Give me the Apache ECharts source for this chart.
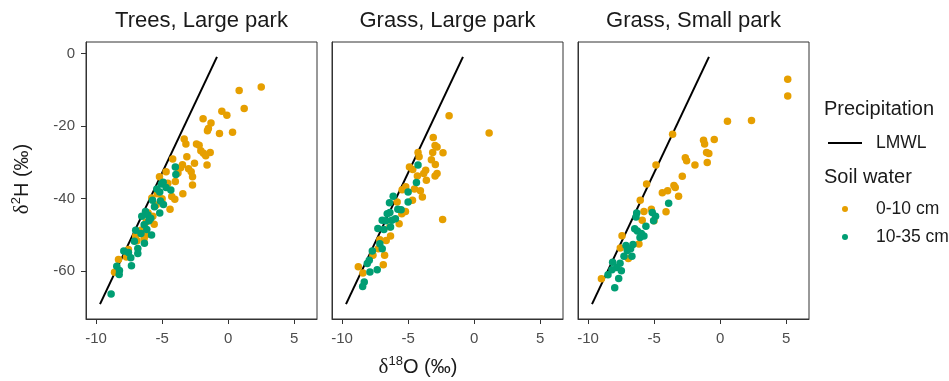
<!DOCTYPE html>
<html>
<head>
<meta charset="utf-8">
<script src="https://cdn.jsdelivr.net/npm/echarts@6/dist/echarts.min.js"></script>
<style>
	html,body{margin:0;padding:0;background:#fff;}
	#main{width:949px;height:381px;}
</style>
</head>
<body>
<div id="main"></div>
<script>
	// panel titles
	var panelNames = ['Trees, Large park', 'Grass, Large park', 'Grass, Small park'];
	var xTicks = [-10, -5, 0, 5];
	var yTicks = [-60, -40, -20, 0];

	// LMWL end points (d18O, d2H)
	var lmwlO = [-9.7, -0.85];
	var lmwlH = [-69.2, -0.9];

	// Trees, Large park
	var p1ShallowO = [2.5, 0.83, 1.21, -0.48, -0.1, -1.9, -1.3, -1.5, -1.57, -0.66, 0.33, -3.33, -3.2, -2.4, -2.2, -2.07, -1.87, -1.36, -1.7, -3.13, -4.2, -1.6, -2.55, -3.46, -3.0, -2.8, -4.7, -3.8, -3.6, -2.7, -5.2, -4.0, -2.7, -4.57, -3.43, -4.27, -4.04, -4.4, -5.35, -5.0, -5.78, -6.06, -5.7, -5.6, -6.2, -6.6, -6.2, -7.0, -6.36, -6.9, -7.55, -7.7, -8.3, -8.6, -5.45];
	var p1ShallowH = [-9.2, -10.2, -15.2, -15.9, -17.0, -18.0, -19.2, -20.7, -21.3, -22.1, -21.7, -23.6, -25.0, -25.0, -25.3, -26.8, -27.5, -27.3, -28.2, -28.5, -29.1, -30.8, -30.3, -30.7, -31.8, -32.6, -32.6, -33.0, -31.5, -34.0, -34.0, -35.3, -36.3, -35.8, -38.7, -39.5, -40.2, -43.0, -38.7, -40.1, -39.9, -44.0, -44.9, -47.1, -46.5, -48.8, -50.0, -50.4, -51.1, -51.7, -54.1, -56.2, -56.9, -60.4, -41.8];
	var p1DeepO = [-8.86, -8.43, -8.23, -8.25, -7.9, -7.55, -7.37, -7.32, -7.0, -7.1, -6.84, -6.84, -6.36, -6.54, -6.26, -6.08, -6.16, -6.34, -5.8, -5.86, -5.58, -5.4, -5.18, -5.13, -5.05, -4.92, -4.7, -5.18, -4.9, -4.34, -3.96, -4.0, -5.73, -6.0, -6.6];
	var p1DeepH = [-66.4, -58.7, -59.9, -61.0, -54.5, -54.9, -56.4, -58.6, -48.8, -51.8, -53.8, -55.2, -47.3, -44.9, -43.6, -44.6, -48.6, -52.4, -50.1, -45.5, -42.3, -37.4, -38.2, -40.7, -36.0, -35.5, -37.0, -44.0, -41.7, -37.7, -33.4, -31.3, -40.5, -46.2, -49.7];

	// Grass, Large park
	var p2ShallowO = [-1.9, 1.13, -3.1, -2.96, -2.81, -2.36, -3.14, -3.24, -2.94, -2.81, -2.96, -4.25, -4.17, -4.9, -4.65, -3.67, -3.82, -3.62, -4.3, -5.18, -5.45, -4.52, -4.07, -3.92, -4.67, -5.83, -5.2, -5.48, -2.39, -5.68, -6.38, -6.33, -6.66, -7.14, -6.78, -7.66, -6.88, -8.77, -8.42, -7.26];
	var p2ShallowH = [-17.2, -21.9, -23.2, -25.4, -25.8, -27.4, -27.3, -29.3, -30.6, -33.1, -33.8, -27.3, -28.5, -31.3, -32.0, -32.2, -33.1, -35.0, -33.8, -36.8, -37.6, -37.4, -37.9, -39.6, -40.5, -41.0, -43.6, -44.2, -45.8, -47.0, -47.9, -50.4, -51.6, -51.4, -55.7, -55.7, -58.3, -58.9, -60.6, -53.9];
	var p2DeepO = [-4.25, -4.37, -5.0, -6.13, -5.0, -6.41, -5.78, -5.53, -6.38, -6.23, -6.96, -6.68, -7.29, -6.83, -6.33, -7.14, -6.96, -7.71, -7.94, -8.09, -7.34, -7.89, -8.32, -8.44, -6.58, -5.96];
	var p2DeepH = [-30.8, -35.6, -38.2, -39.4, -41.0, -41.2, -43.0, -43.1, -43.9, -46.0, -46.0, -46.2, -48.3, -48.6, -47.9, -52.5, -53.9, -54.5, -57.1, -58.0, -59.7, -60.3, -63.1, -64.3, -44.2, -45.6];

	// Grass, Small park
	var p3ShallowO = [5.11, 5.11, 0.55, 2.37, -3.6, -1.26, -0.45, -1.18, -1.03, -0.86, -0.98, -2.64, -2.54, -1.91, -4.86, -2.87, -5.57, -3.5, -3.4, -3.98, -4.38, -3.15, -6.05, -4.1, -5.77, -5.21, -5.9, -5.01, -7.43, -6.15, -7.56, -6.95, -8.99];
	var p3ShallowH = [-7.1, -11.7, -18.7, -18.5, -22.3, -23.9, -23.7, -25.0, -27.3, -27.6, -30.1, -28.8, -29.6, -30.8, -30.8, -33.9, -36.0, -36.4, -37.0, -37.9, -38.4, -39.4, -40.5, -43.7, -43.6, -43.0, -46.0, -46.2, -50.3, -52.6, -53.7, -56.6, -62.2];
	var p3DeepO = [-3.9, -6.32, -6.37, -5.14, -4.89, -5.04, -5.62, -6.47, -6.27, -5.97, -5.77, -6.07, -6.6, -7.13, -6.78, -7.28, -6.68, -8.14, -7.58, -7.83, -8.19, -7.48, -8.49, -7.68, -7.98, -7.03];
	var p3DeepH = [-41.3, -44.0, -45.1, -43.9, -44.9, -46.2, -47.7, -48.4, -49.0, -49.7, -50.4, -50.8, -52.7, -53.0, -53.9, -56.0, -56.0, -57.6, -57.9, -59.1, -59.7, -60.0, -61.1, -62.1, -64.7, -54.4];

	var shallowO = [p1ShallowO, p2ShallowO, p3ShallowO];
	var shallowH = [p1ShallowH, p2ShallowH, p3ShallowH];
	var deepO = [p1DeepO, p2DeepO, p3DeepO];
	var deepH = [p1DeepH, p2DeepH, p3DeepH];

	var FONT = '"Liberation Sans", Arial, sans-serif';
	var orange = '#E69F00';
	var green = '#009E73';
	var panelLeft = [86, 332, 578];
	var panelW = 231;

	function pairs(xs, ys){
		var out = [];
		for(var i=0;i<xs.length;i++){
			out.push([xs[i], ys[i]]);
		}
		return out;
	}

	var grids = [], xAxes = [], yAxes = [], series = [], graphics = [];
	for(var i=0;i<3;i++){
		// no grid background, and axis lines on: ticks only show that way
		grids.push({
			left: panelLeft[i], top: 42, width: panelW, height: 277,
			show: true, borderColor: '#333', borderWidth: 1
		});
		xAxes.push({
			type: 'value', gridIndex: i, min: -10.76, max: 6.72,
			axisLine: {show: true, onZero: false, lineStyle: {color: '#333', width: 1}},
			splitLine: {show: false},
			axisTick: {show: true, length: 5, customValues: xTicks, lineStyle: {color: '#333', width: 1}},
			axisLabel: {customValues: xTicks, color: '#4d4d4d', fontSize: 15, fontFamily: FONT, margin: 12}
		});
		yAxes.push({
			type: 'value', gridIndex: i, min: -73.3, max: 3.2,
			axisLine: {show: true, onZero: false, lineStyle: {color: '#333', width: 1}},
			splitLine: {show: false},
			axisTick: {show: i == 0, length: 5, customValues: yTicks, lineStyle: {color: '#333', width: 1}},
			axisLabel: {show: i == 0, customValues: yTicks, color: '#4d4d4d', fontSize: 15, fontFamily: FONT, margin: 11}
		});
		series.push({
			name: 'LMWL', type: 'line', xAxisIndex: i, yAxisIndex: i,
			symbol: 'none', lineStyle: {color: '#000', width: 2}, itemStyle: {color: '#000'},
			data: pairs(lmwlO, lmwlH), z: 1
		});
		series.push({
			name: '0-10 cm', type: 'scatter', xAxisIndex: i, yAxisIndex: i,
			symbolSize: 7.5, itemStyle: {color: orange, opacity: 1},
			data: pairs(shallowO[i], shallowH[i]), z: 2
		});
		series.push({
			name: '10-35 cm', type: 'scatter', xAxisIndex: i, yAxisIndex: i,
			symbolSize: 7.5, itemStyle: {color: green, opacity: 1},
			data: pairs(deepO[i], deepH[i]), z: 2
		});
		graphics.push({
			type: 'text', x: panelLeft[i] + panelW / 2, y: 21,
			style: {text: panelNames[i], font: '22px ' + FONT, fill: '#1a1a1a', align: 'center', verticalAlign: 'middle'}
		});
	}

	// axis titles
	var richTitle = {
		d: {fontSize: 21, fontFamily: '"Liberation Serif", serif', fill: '#1a1a1a', lineHeight: 24},
		s: {fontSize: 13, fontFamily: FONT, fill: '#1a1a1a', lineHeight: 14, verticalAlign: 'top'},
		n: {fontSize: 20, fontFamily: FONT, fill: '#1a1a1a', lineHeight: 24}
	};
	graphics.push({
		type: 'text', x: 418, y: 367,
		style: {text: '{d|δ}{s|18}{n|O (‰)}', rich: richTitle, align: 'center', verticalAlign: 'middle'}
	});
	graphics.push({
		type: 'text', x: 22, y: 179, rotation: Math.PI / 2,
		style: {text: '{d|δ}{s|2}{n|H (‰)}', rich: richTitle, align: 'center', verticalAlign: 'middle'}
	});
	// legend section titles
	graphics.push({
		type: 'text', x: 824, y: 109,
		style: {text: 'Precipitation', font: '20px ' + FONT, fill: '#1a1a1a', align: 'left', verticalAlign: 'middle'}
	});
	graphics.push({
		type: 'text', x: 824, y: 177,
		style: {text: 'Soil water', font: '20px ' + FONT, fill: '#1a1a1a', align: 'left', verticalAlign: 'middle'}
	});

	var chart = echarts.init(document.getElementById('main'));
	chart.setOption({
		animation: false,
		grid: grids,
		xAxis: xAxes,
		yAxis: yAxes,
		legend: [
			{
				data: [{name: 'LMWL', icon: 'path://M0 0H34V2H0Z'}], left: 828, top: 134, orient: 'vertical', padding: 0,
				itemWidth: 34, itemHeight: 16,
				textStyle: {fontSize: 17.5, fontFamily: FONT, color: '#1a1a1a', padding: [0, 0, 0, 9]}
			},
			{
				data: ['0-10 cm', '10-35 cm'], left: 842, top: 200, orient: 'vertical', padding: 0,
				itemWidth: 6, itemHeight: 6, itemGap: 10, icon: 'circle',
				textStyle: {fontSize: 17.5, fontFamily: FONT, color: '#1a1a1a', padding: [0, 0, 0, 23]}
			}
		],
		graphic: graphics,
		series: series
	});
</script>
</body>
</html>
